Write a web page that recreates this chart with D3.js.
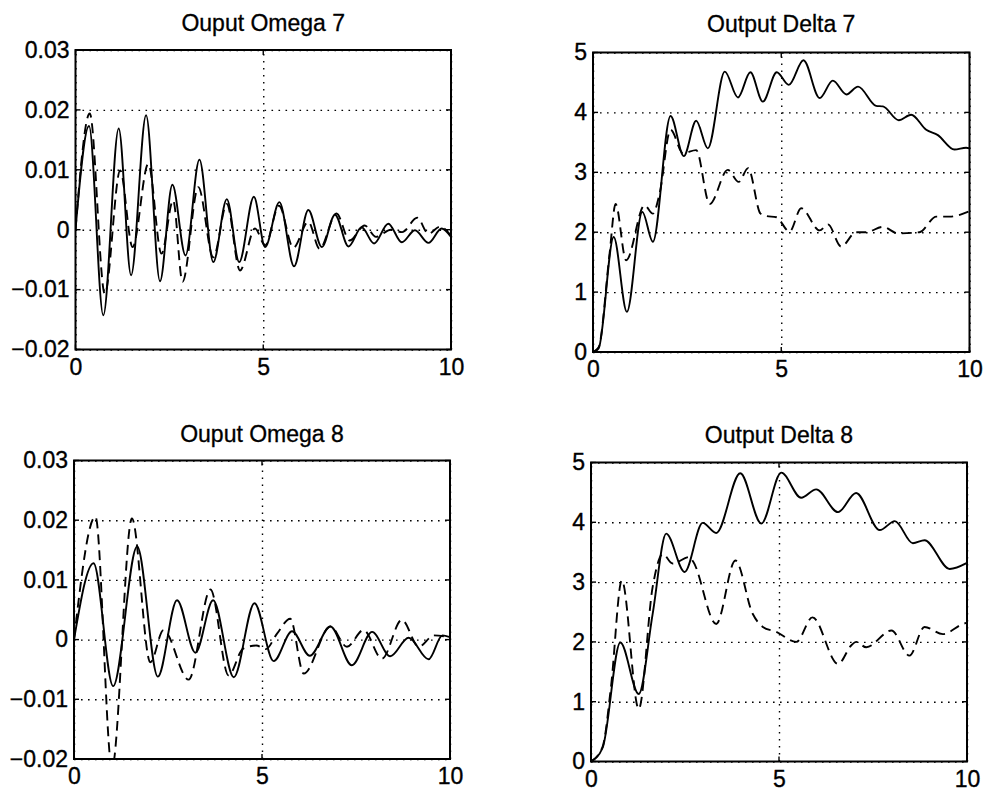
<!DOCTYPE html>
<html>
<head>
<meta charset="utf-8">
<script src="https://cdn.jsdelivr.net/npm/d3@7"></script>
<style>
  html, body { margin: 0; padding: 0; background: #fff; }
  svg { display: block; }
  text { font-family: "Liberation Sans", Arial, Helvetica, sans-serif; fill: #000; }
</style>
</head>
<body>
<svg id="chart" width="986" height="795"></svg>
<script>
// ---------------- DATA ----------------
const titles = ["Ouput Omega 7", "Output Delta 7", "Ouput Omega 8", "Output Delta 8"];

const xTicks = [0, 5, 10];
const xTickLabels = ["0", "5", "10"];

const omegaTicks = [-0.02, -0.01, 0, 0.01, 0.02, 0.03];
const omegaTickLabels = ["\u22120.02", "\u22120.01", "0", "0.01", "0.02", "0.03"];
const deltaTicks = [0, 1, 2, 3, 4, 5];
const deltaTickLabels = ["0", "1", "2", "3", "4", "5"];

// Ouput Omega 7 — solid
const om7SolidT = [0, 0.36, 0.74, 1.15, 1.48, 1.88, 2.25, 2.58, 2.93, 3.30, 3.67, 4.03, 4.36, 4.75, 5.05, 5.43, 5.82, 6.20, 6.56, 6.91, 7.27, 7.62, 7.95, 8.33, 8.69, 9.04, 9.40, 9.75, 10];
const om7SolidV = [0, 0.0173, -0.0143, 0.0169, -0.0076, 0.0191, -0.0086, 0.0075, -0.0043, 0.0117, -0.0054, 0.0051, -0.0054, 0.0055, -0.0029, 0.0046, -0.0061, 0.0033, -0.0029, 0.0025, -0.0028, 0.0004, -0.0023, 0.0010, -0.0021, -0.0001, -0.0022, 0.0002, -0.0012];
// Ouput Omega 7 — dashed
const om7DashT = [0, 0.38, 0.78, 1.19, 1.52, 1.94, 2.29, 2.60, 2.85, 3.27, 3.67, 4.03, 4.38, 4.78, 5.05, 5.42, 5.80, 6.20, 6.50, 6.95, 7.30, 7.70, 8.00, 8.40, 8.70, 9.10, 9.40, 9.70, 10];
const om7DashV = [0, 0.0194, -0.0107, 0.0099, -0.0029, 0.0110, -0.0040, 0.0049, -0.0087, 0.0071, -0.0046, 0.0043, -0.0068, 0.0002, -0.0026, 0.0040, -0.0030, 0.0013, -0.0032, 0.0027, -0.0018, 0.0007, -0.0012, 0.0000, -0.0004, 0.0020, -0.0007, 0.0005, -0.0010];

// Output Delta 7 — solid
const de7SolidT = [0, 0.15, 0.55, 0.90, 1.31, 1.59, 2.06, 2.41, 2.74, 3.05, 3.50, 3.85, 4.18, 4.51, 4.88, 5.20, 5.59, 6.02, 6.37, 6.73, 7.04, 7.52, 7.70, 8.12, 8.45, 8.85, 9.16, 9.60, 9.91, 10];
const de7SolidV = [0, 0.06, 1.92, 0.67, 2.34, 1.84, 3.94, 3.27, 3.86, 3.40, 4.68, 4.25, 4.67, 4.18, 4.67, 4.46, 4.87, 4.24, 4.53, 4.30, 4.43, 4.11, 4.10, 3.87, 3.96, 3.71, 3.62, 3.38, 3.41, 3.40];
// Output Delta 7 — dashed
const de7DashT = [0, 0.15, 0.44, 0.60, 0.88, 1.37, 1.59, 1.77, 2.06, 2.39, 2.74, 3.10, 3.58, 3.87, 4.12, 4.45, 4.60, 4.87, 5.22, 5.53, 6.02, 6.24, 6.59, 6.99, 7.26, 7.70, 8.10, 8.67, 9.12, 9.47, 10];
const de7DashV = [0, 0.08, 1.64, 2.47, 1.53, 2.45, 2.31, 2.65, 3.71, 3.32, 3.37, 2.47, 3.04, 2.84, 3.07, 2.31, 2.27, 2.25, 2.01, 2.40, 2.03, 2.13, 1.76, 2.00, 2.00, 2.09, 1.98, 2.00, 2.26, 2.26, 2.35];

// Ouput Omega 8 — solid
const om8SolidT = [0, 0.52, 1.04, 1.68, 2.23, 2.74, 3.23, 3.70, 4.25, 4.80, 5.31, 5.80, 6.27, 6.82, 7.39, 7.93, 8.41, 8.90, 9.43, 9.80, 10];
const om8SolidV = [0, 0.0128, -0.0078, 0.0156, -0.0062, 0.0066, -0.0022, 0.0066, -0.0063, 0.0061, -0.0036, 0.0014, -0.0027, 0.0022, -0.0043, 0.0013, -0.0028, 0.0003, -0.0033, 0.0007, 0.0004];
// Ouput Omega 8 — dashed
const om8DashT = [0, 0.57, 1.01, 1.54, 2.03, 2.38, 3.05, 3.63, 4.11, 4.50, 4.85, 5.10, 5.40, 5.75, 6.11, 6.82, 7.26, 7.70, 8.19, 8.72, 9.17, 9.57, 10];
const om8DashV = [0, 0.0206, -0.0215, 0.0203, -0.0038, 0.0016, -0.0067, 0.0084, -0.0060, -0.0015, -0.0010, -0.0016, 0.0010, 0.0035, -0.0057, 0.0022, -0.0012, 0.0016, -0.0032, 0.0033, -0.0012, 0.0007, 0.0004];

// Output Delta 8 — solid
const de8SolidT = [0, 0.31, 0.78, 1.27, 1.64, 2.00, 2.49, 2.97, 3.33, 3.97, 4.53, 5.06, 5.59, 5.99, 6.57, 7.05, 7.68, 8.08, 8.56, 8.87, 9.54, 10];
const de8SolidV = [0, 0.23, 1.99, 1.13, 2.47, 3.81, 3.17, 3.99, 3.82, 4.82, 3.98, 4.83, 4.41, 4.55, 4.17, 4.49, 3.87, 4.02, 3.65, 3.70, 3.22, 3.32];
// Output Delta 8 — dashed
const de8DashT = [0, 0.31, 0.53, 0.82, 1.27, 1.64, 1.91, 2.17, 2.62, 2.72, 3.33, 3.84, 4.30, 4.57, 4.92, 5.46, 5.89, 6.57, 6.92, 7.05, 7.32, 7.99, 8.47, 8.87, 9.36, 9.89, 10];
const de8DashV = [0, 0.25, 1.24, 3.03, 0.88, 2.92, 3.47, 3.31, 3.42, 3.34, 2.30, 3.36, 2.47, 2.25, 2.17, 2.00, 2.41, 1.63, 1.94, 2.00, 1.91, 2.19, 1.77, 2.25, 2.13, 2.30, 2.32];

// ---------------- LAYOUT ----------------
const panels = [
  { title: titles[0], box: [75.5, 451, 50, 349.5], yDomain: [-0.02, 0.03], yTicks: omegaTicks, yLabels: omegaTickLabels,
    solid: [om7SolidT, om7SolidV], dash: [om7DashT, om7DashV], titleY: 31 },
  { title: titles[1], box: [593, 969.5, 52.5, 352], yDomain: [0, 5], yTicks: deltaTicks, yLabels: deltaTickLabels,
    solid: [de7SolidT, de7SolidV], dash: [de7DashT, de7DashV], titleY: 32 },
  { title: titles[2], box: [74, 450, 460.5, 759], yDomain: [-0.02, 0.03], yTicks: omegaTicks, yLabels: omegaTickLabels,
    solid: [om8SolidT, om8SolidV], dash: [om8DashT, om8DashV], titleY: 442 },
  { title: titles[3], box: [591, 967, 462.5, 761.5], yDomain: [0, 5], yTicks: deltaTicks, yLabels: deltaTickLabels,
    solid: [de8SolidT, de8SolidV], dash: [de8DashT, de8DashV], titleY: 443 }
];

const svg = d3.select("#chart");

panels.forEach((p, idx) => {
  const [x0, x1, y0, y1] = p.box;
  const x = d3.scaleLinear().domain([0, 10]).range([x0, x1]);
  const y = d3.scaleLinear().domain(p.yDomain).range([y1, y0]);
  const g = svg.append("g");

  const clipId = "clip" + idx;
  svg.append("clipPath").attr("id", clipId)
    .append("rect").attr("x", x0).attr("y", y0).attr("width", x1 - x0).attr("height", y1 - y0);

  const xa = g.append("g").attr("transform", `translate(0,${y1})`)
    .call(d3.axisBottom(x).tickValues(xTicks).tickFormat((d, i) => xTickLabels[i])
      .tickSize(-(y1 - y0)).tickPadding(9));
  xa.select(".domain").remove();
  xa.selectAll("line").attr("stroke", "#000").attr("stroke-width", 1.4).attr("stroke-dasharray", "1.6,5.4");
  xa.selectAll("text").attr("font-size", 23).attr("font-family", '"Liberation Sans", Arial, sans-serif')
    .attr("stroke", "#000").attr("stroke-width", 0.35);

  const ya = g.append("g").attr("transform", `translate(${x0},0)`)
    .call(d3.axisLeft(y).tickValues(p.yTicks).tickFormat((d, i) => p.yLabels[i])
      .tickSize(-(x1 - x0)).tickPadding(6));
  ya.select(".domain").remove();
  ya.selectAll("line").attr("stroke", "#000").attr("stroke-width", 1.4).attr("stroke-dasharray", "1.6,5.4");
  ya.selectAll("text").attr("font-size", 23).attr("font-family", '"Liberation Sans", Arial, sans-serif')
    .attr("stroke", "#000").attr("stroke-width", 0.35);

  xTicks.forEach(t => {
    g.append("line").attr("x1", x(t)).attr("x2", x(t)).attr("y1", y1).attr("y2", y1 - 5).attr("stroke", "#000").attr("stroke-width", 1.4);
    g.append("line").attr("x1", x(t)).attr("x2", x(t)).attr("y1", y0).attr("y2", y0 + 5).attr("stroke", "#000").attr("stroke-width", 1.4);
  });
  p.yTicks.forEach(t => {
    g.append("line").attr("x1", x0).attr("x2", x0 + 5).attr("y1", y(t)).attr("y2", y(t)).attr("stroke", "#000").attr("stroke-width", 1.4);
    g.append("line").attr("x1", x1).attr("x2", x1 - 5).attr("y1", y(t)).attr("y2", y(t)).attr("stroke", "#000").attr("stroke-width", 1.4);
  });

  const line = d3.line().x(d => x(d[0])).y(d => y(d[1])).curve(d3.curveMonotoneX);
  const solidData = d3.zip(p.solid[0], p.solid[1]);
  const dashData = d3.zip(p.dash[0], p.dash[1]);
  const lg = g.append("g").attr("clip-path", `url(#${clipId})`);
  lg.append("path").datum(dashData).attr("d", line).attr("fill", "none")
    .attr("stroke", "#000").attr("stroke-width", 1.9).attr("stroke-dasharray", "10,6");
  lg.append("path").datum(solidData).attr("d", line).attr("fill", "none")
    .attr("stroke", "#000").attr("stroke-width", 1.9);

  g.append("rect").attr("x", x0).attr("y", y0).attr("width", x1 - x0).attr("height", y1 - y0)
    .attr("fill", "none").attr("stroke", "#000").attr("stroke-width", 2);

  g.append("text").attr("x", (x0 + x1) / 2).attr("y", p.titleY).attr("text-anchor", "middle")
    .attr("font-size", 23).attr("stroke", "#000").attr("stroke-width", 0.3).text(p.title);
});
</script>
</body>
</html>
